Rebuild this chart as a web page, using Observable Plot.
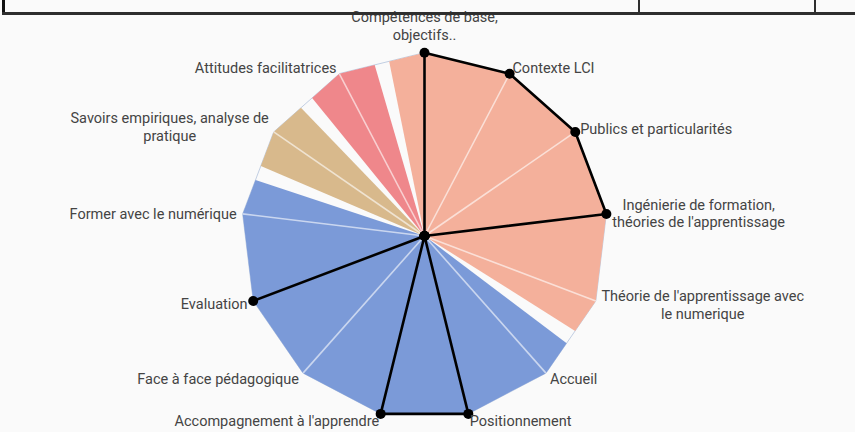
<!DOCTYPE html>
<html><head><meta charset="utf-8">
<script src="https://cdn.jsdelivr.net/npm/d3@7"></script>
<script src="https://cdn.jsdelivr.net/npm/@observablehq/plot@0.6"></script>
<style>
html,body{margin:0;padding:0;background:#fafafa;}
#wrap{position:relative;width:855px;height:432px;overflow:hidden;background:#fafafa;}
#chart{position:absolute;left:0;top:0;}
.b{position:absolute;background:#2e2e2e;}
</style></head><body>
<div id="wrap">
  <div id="chart"></div>
  <div class="b" style="left:2px;top:0;width:3px;height:15px;background:#111"></div>
  <div class="b" style="left:2px;top:12px;width:853px;height:3px"></div>
  <div class="b" style="left:638px;top:0;width:2px;height:14px"></div>
  <div class="b" style="left:814px;top:0;width:2px;height:14px"></div>
</div>
<script>
// ---- data ----
const categories = [
  "Compétences de base,\nobjectifs..",
  "Contexte LCI",
  "Publics et particularités",
  "Ingénierie de formation,\nthéories de l'apprentissage",
  "Théorie de l'apprentissage avec\nle numerique",
  "Accueil",
  "Positionnement",
  "Accompagnement à l'apprendre",
  "Face à face pédagogique",
  "Evaluation",
  "Former avec le numérique",
  "Savoirs empiriques, analyse de\npratique",
  "Attitudes facilitatrices"
];
const families = ["A","A","A","A","A","B","B","B","B","B","B","C","D"];
const familyNames = ["A","B","C","D"];
const familyColors = ["#f4b09b","#7b9ad8","#d8b98c","#ef878b"];
const coverage = [1,1,1,1,1,1,1,1,1,1,1,1,1];
const profile  = [1,1,1,1,0,0,1,1,0,1,0,0,0];
const valueMax = 1;

// ---- layout constants ----
const W = 855, H = 432, cx = 424, cy = 235.5, R = 183.2;
const pad = 2.4 * Math.PI / 180;
const FS = 14.5;
const FONT = FS + "px Roboto";

const n = categories.length;
const step = 2 * Math.PI / n;
const ang = i => i * step;
const mod = i => ((i % n) + n) % n;
const pt = (i, v) => [v / valueMax * Math.sin(ang(i)), v / valueMax * Math.cos(ang(i))];
const cross = (a, b) => a[0] * b[1] - a[1] * b[0];

// point on the outline between vertex k and k+1 along direction phi
function edgePoint(k, phi) {
  const P = pt(mod(k), coverage[mod(k)]);
  const Q = pt(mod(k + 1), coverage[mod(k + 1)]);
  const d = [Math.sin(phi), Math.cos(phi)];
  const QP = [Q[0] - P[0], Q[1] - P[1]];
  const s = cross(d, P) / cross(QP, d);
  return [P[0] + s * QP[0], P[1] + s * QP[1]];
}

// contiguous runs of the same family
let start = 0;
for (let i = 0; i < n; i++) if (families[i] !== families[mod(i - 1)]) { start = i; break; }
const runs = [];
for (let j = 0; j < n; j++) {
  const i = mod(start + j);
  if (j === 0 || families[i] !== families[mod(i - 1)]) runs.push({family: families[i], idx: [i]});
  else runs[runs.length - 1].idx.push(i);
}
const runPolys = runs.map(r => {
  const a = r.idx[0], b = r.idx[r.idx.length - 1];
  const pts = [[0, 0]];
  pts.push(edgePoint(a - 1, ang(a) - step / 2 + pad));
  for (const i of r.idx) pts.push(pt(i, coverage[i]));
  pts.push(edgePoint(b, ang(b) + step / 2 - pad));
  return {color: familyColors[familyNames.indexOf(r.family)], pts};
});

const outline = d3.range(n).map(i => pt(i, coverage[i]));
const profilePts = d3.range(n).map(i => pt(i, profile[i]));

// labels
const ctx = document.createElement("canvas").getContext("2d");
ctx.font = FONT;
const labels = categories.map((c, i) => {
  const lines = c.split("\n");
  const w = d3.max(lines, l => ctx.measureText(l).width);
  const s = Math.sin(ang(i)), co = Math.cos(ang(i));
  const [vx, vy] = pt(i, coverage[i]);   // data units
  let x, y, anchor = "middle";
  if (Math.abs(s) < 0.05) {
    x = vx;
    y = vy + Math.sign(co) * 13 / R;
    anchor = co > 0 ? "bottom" : "top";
  } else {
    const off = 6 * s;
    x = vx + (off + Math.sign(s) * w / 2) / R;
    const k = lines.length === 1 ? 7 : 10;
    y = vy + co * k / R;
  }
  return {text: c, x, y, anchor};
});

const chart = Plot.plot({
  width: W, height: H, margin: 0,
  style: {fontFamily: "Roboto, sans-serif", fontSize: FS + "px", background: "transparent", color: "#444"},
  x: {domain: [-cx / R, (W - cx) / R], axis: null},
  y: {domain: [-(H - cy) / R, cy / R], axis: null},
  marks: [
    Plot.line(outline, {x: d => d[0], y: d => d[1], curve: "linear-closed", stroke: "#b3c3dc", strokeWidth: 0.8}),
    ...runPolys.map(r => Plot.line(r.pts, {x: d => d[0], y: d => d[1], curve: "linear-closed", fill: r.color, stroke: "none"})),
    Plot.link(d3.range(n), {x1: () => 0, y1: () => 0, x2: i => pt(i, coverage[i])[0], y2: i => pt(i, coverage[i])[1], stroke: "white", strokeOpacity: 0.6, strokeWidth: 1.6}),
    Plot.line(profilePts, {x: d => d[0], y: d => d[1], curve: "linear-closed", stroke: "black", strokeWidth: 2.6, strokeLinejoin: "round"}),
    Plot.dot(profilePts, {x: d => d[0], y: d => d[1], r: 5, fill: "black", stroke: "none"}),
    ...["middle", "bottom", "top"].map(la => Plot.text(labels.filter(l => l.anchor === la), {
      x: "x", y: "y", text: "text", textAnchor: "middle", lineAnchor: la, lineHeight: 1.2,
      fill: "#444", fontSize: FS
    }))
  ]
});
document.getElementById("chart").appendChild(chart);
</script>
</body></html>
